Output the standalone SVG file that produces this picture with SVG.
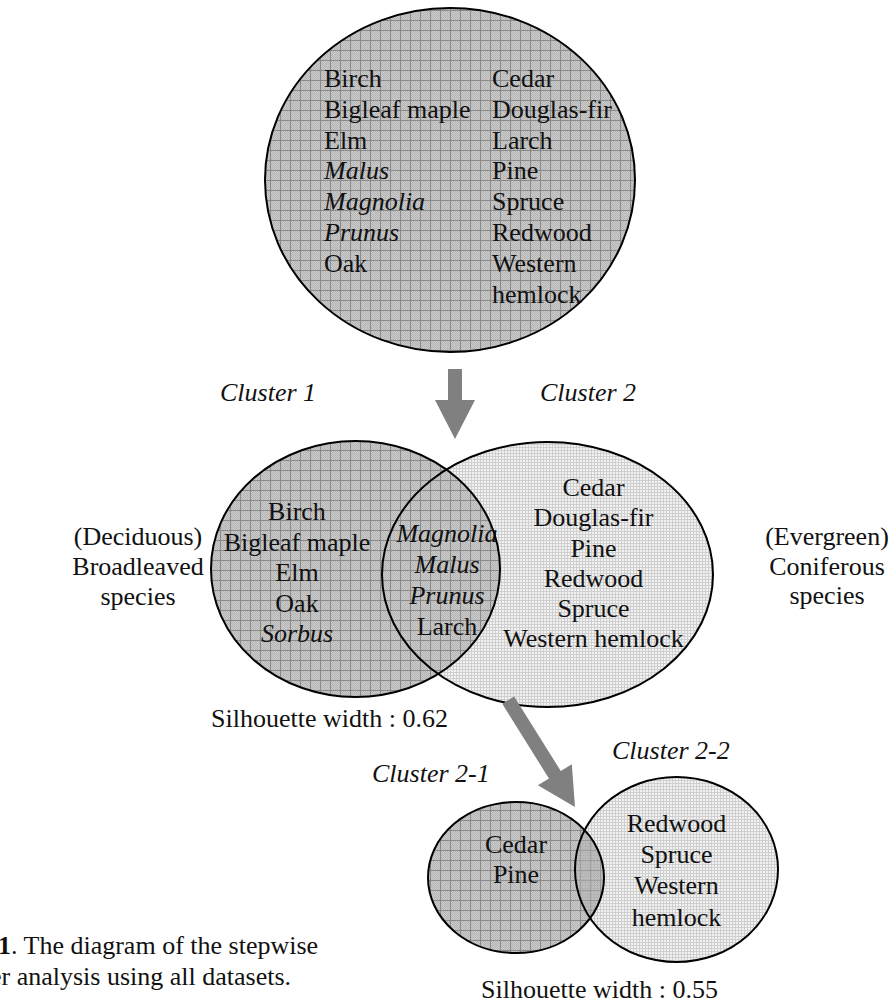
<svg xmlns="http://www.w3.org/2000/svg" width="891" height="1002" viewBox="0 0 891 1002">
<style>
text{font-family:"Liberation Serif","Times New Roman",serif;font-size:26px;fill:#111}
.i{font-style:italic}
.m{text-anchor:middle}
.ol{fill:none;stroke:#000;stroke-width:2}
.arr{fill:#808080}
</style>
<defs>
<pattern id="chk" width="2" height="2" patternUnits="userSpaceOnUse">
<rect width="2" height="2" fill="#cacaca"/>
<rect width="1" height="1" fill="#b6b6b6"/>
<rect x="1" y="1" width="1" height="1" fill="#b6b6b6"/>
</pattern>
<pattern id="dark" width="10" height="10" patternUnits="userSpaceOnUse">
<rect width="10" height="10" fill="url(#chk)"/>
<path d="M0 0.5H10M0.5 0V10" stroke="#8a8a8a" stroke-width="1"/>
</pattern>
<pattern id="light" width="3" height="3" patternUnits="userSpaceOnUse">
<rect width="3" height="3" fill="#f2f2f2"/>
<path d="M0 0.5H3M0.5 0V3" stroke="#cfcfcf" stroke-width="1"/>
</pattern>
<clipPath id="cr2"><ellipse cx="676.5" cy="869.5" rx="101.5" ry="92.5"/></clipPath>
</defs>
<rect width="891" height="1002" fill="#fff"/>

<g id="all-species">
<ellipse cx="450" cy="180" rx="185" ry="172" fill="url(#dark)"/>
<ellipse class="ol" cx="450" cy="180" rx="185" ry="172"/>
<text x="324" y="87">Birch</text>
<text x="324" y="117.8">Bigleaf maple</text>
<text x="324" y="148.6">Elm</text>
<text class="i" x="324" y="179.4">Malus</text>
<text class="i" x="324" y="210.2">Magnolia</text>
<text class="i" x="324" y="241">Prunus</text>
<text x="324" y="271.8">Oak</text>
<text x="492" y="87">Cedar</text>
<text x="492" y="117.8">Douglas-fir</text>
<text x="492" y="148.6">Larch</text>
<text x="492" y="179.4">Pine</text>
<text x="492" y="210.2">Spruce</text>
<text x="492" y="241">Redwood</text>
<text x="492" y="271.8">Western</text>
<text x="492" y="302.6">hemlock</text>
</g>

<g id="cluster2">
<ellipse cx="547.5" cy="574.5" rx="165.5" ry="132.5" fill="url(#light)"/>
</g>
<g id="cluster1">
<ellipse cx="355.5" cy="569" rx="144.5" ry="128" fill="url(#dark)"/>
<text class="m" x="297" y="520">Birch</text>
<text class="m" x="297" y="550.5">Bigleaf maple</text>
<text class="m" x="297" y="581">Elm</text>
<text class="m" x="297" y="611.5">Oak</text>
<text class="m i" x="297" y="642">Sorbus</text>
</g>
<g id="cluster2-text">
<text class="m" x="593.5" y="496">Cedar</text>
<text class="m" x="593.5" y="526">Douglas-fir</text>
<text class="m" x="593.5" y="557">Pine</text>
<text class="m" x="593.5" y="587">Redwood</text>
<text class="m" x="593.5" y="617">Spruce</text>
<text class="m" x="593.5" y="647">Western hemlock</text>
</g>
<g id="overlap-1-2">
<text class="m i" x="447" y="542">Magnolia</text>
<text class="m i" x="447" y="573">Malus</text>
<text class="m i" x="447" y="604">Prunus</text>
<text class="m" x="447" y="635">Larch</text>
</g>
<g id="middle-outlines">
<ellipse class="ol" cx="355.5" cy="569" rx="144.5" ry="128"/>
<ellipse class="ol" cx="547.5" cy="574.5" rx="165.5" ry="132.5"/>
</g>

<g id="label-deciduous">
<text class="m" x="138" y="545">(Deciduous)</text>
<text class="m" x="138" y="575">Broadleaved</text>
<text class="m" x="138" y="605">species</text>
</g>
<g id="label-evergreen">
<text class="m" x="827" y="545">(Evergreen)</text>
<text class="m" x="827" y="575">Coniferous</text>
<text class="m" x="827" y="604">species</text>
</g>

<g id="cluster2-1">
<ellipse cx="516" cy="877.5" rx="88" ry="75.5" fill="url(#dark)"/>
<text class="m" x="516" y="853">Cedar</text>
<text class="m" x="516" y="883">Pine</text>
</g>
<g id="cluster2-2">
<ellipse cx="676.5" cy="869.5" rx="101.5" ry="92.5" fill="url(#light)"/>
<ellipse cx="516" cy="877.5" rx="88" ry="75.5" fill="url(#dark)" clip-path="url(#cr2)"/>
<ellipse cx="516" cy="877.5" rx="88" ry="75.5" fill="url(#light)" opacity="0.35" clip-path="url(#cr2)"/>
<ellipse cx="516" cy="877.5" rx="88" ry="75.5" fill="#707070" opacity="0.2" clip-path="url(#cr2)"/>
<text class="m" x="676.5" y="832">Redwood</text>
<text class="m" x="676.5" y="863">Spruce</text>
<text class="m" x="676.5" y="894">Western</text>
<text class="m" x="676.5" y="926">hemlock</text>
<ellipse class="ol" cx="516" cy="877.5" rx="88" ry="75.5"/>
<ellipse class="ol" cx="676.5" cy="869.5" rx="101.5" ry="92.5"/>
</g>

<g id="connectors">
<polygon class="arr" transform="translate(455,439)" points="-7,-70 7,-70 7,-39 20,-39 0,0 -20,-39 -7,-39"/>
<polygon class="arr" transform="translate(575,807) rotate(-32)" points="-7,-126 7,-126 7,-38 20,-38 0,0 -20,-38 -7,-38"/>
</g>

<g id="labels">
<text class="i" x="220" y="401">Cluster 1</text>
<text class="i" x="540" y="401">Cluster 2</text>
<text x="211" y="727">Silhouette width : 0.62</text>
<text class="i" x="372" y="782">Cluster 2-1</text>
<text class="i" x="612" y="759">Cluster 2-2</text>
<text x="481" y="998">Silhouette width : 0.55</text>
</g>

<g id="caption">
<text x="-2" y="954"><tspan font-weight="bold">1</tspan>. The diagram of the stepwise</text>
<text x="-10" y="985">er analysis using all datasets.</text>
</g>
</svg>
